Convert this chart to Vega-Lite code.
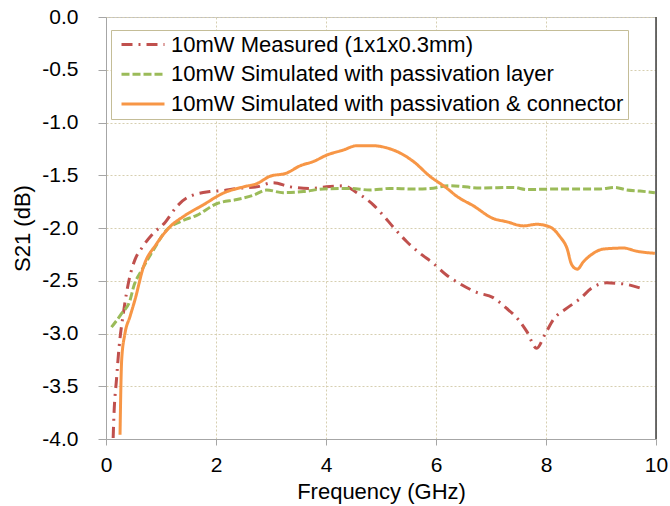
{
  "$schema": "https://vega.github.io/schema/vega-lite/v6.json",
  "width": 550,
  "height": 422,
  "autosize": {"type": "none"},
  "padding": {"left": 106, "top": 17, "right": 14, "bottom": 67},
  "background": "white",
  "config": {
    "font": "Liberation Sans",
    "view": {"stroke": "#BFBFBF", "strokeWidth": 1}
  },
  "datasets": {
    "s21": [
      {"s": "10mW Measured (1x1x0.3mm)", "f": 0.13, "db": -3.99},
      {"s": "10mW Measured (1x1x0.3mm)", "f": 0.145, "db": -3.77},
      {"s": "10mW Measured (1x1x0.3mm)", "f": 0.19, "db": -3.44},
      {"s": "10mW Measured (1x1x0.3mm)", "f": 0.236, "db": -3.14},
      {"s": "10mW Measured (1x1x0.3mm)", "f": 0.315, "db": -2.81},
      {"s": "10mW Measured (1x1x0.3mm)", "f": 0.42, "db": -2.49},
      {"s": "10mW Measured (1x1x0.3mm)", "f": 0.527, "db": -2.3},
      {"s": "10mW Measured (1x1x0.3mm)", "f": 0.65, "db": -2.19},
      {"s": "10mW Measured (1x1x0.3mm)", "f": 0.86, "db": -2.05},
      {"s": "10mW Measured (1x1x0.3mm)", "f": 1.07, "db": -1.95},
      {"s": "10mW Measured (1x1x0.3mm)", "f": 1.28, "db": -1.8},
      {"s": "10mW Measured (1x1x0.3mm)", "f": 1.485, "db": -1.71},
      {"s": "10mW Measured (1x1x0.3mm)", "f": 1.89, "db": -1.655},
      {"s": "10mW Measured (1x1x0.3mm)", "f": 2.13, "db": -1.645},
      {"s": "10mW Measured (1x1x0.3mm)", "f": 2.38, "db": -1.625},
      {"s": "10mW Measured (1x1x0.3mm)", "f": 2.74, "db": -1.61},
      {"s": "10mW Measured (1x1x0.3mm)", "f": 3.04, "db": -1.57},
      {"s": "10mW Measured (1x1x0.3mm)", "f": 3.35, "db": -1.61},
      {"s": "10mW Measured (1x1x0.3mm)", "f": 3.71, "db": -1.625},
      {"s": "10mW Measured (1x1x0.3mm)", "f": 4.01, "db": -1.61},
      {"s": "10mW Measured (1x1x0.3mm)", "f": 4.32, "db": -1.6},
      {"s": "10mW Measured (1x1x0.3mm)", "f": 4.56, "db": -1.665},
      {"s": "10mW Measured (1x1x0.3mm)", "f": 4.86, "db": -1.78},
      {"s": "10mW Measured (1x1x0.3mm)", "f": 5.04, "db": -1.88},
      {"s": "10mW Measured (1x1x0.3mm)", "f": 5.22, "db": -1.99},
      {"s": "10mW Measured (1x1x0.3mm)", "f": 5.47, "db": -2.13},
      {"s": "10mW Measured (1x1x0.3mm)", "f": 5.71, "db": -2.24},
      {"s": "10mW Measured (1x1x0.3mm)", "f": 5.95, "db": -2.335},
      {"s": "10mW Measured (1x1x0.3mm)", "f": 6.19, "db": -2.445},
      {"s": "10mW Measured (1x1x0.3mm)", "f": 6.44, "db": -2.53},
      {"s": "10mW Measured (1x1x0.3mm)", "f": 6.74, "db": -2.61},
      {"s": "10mW Measured (1x1x0.3mm)", "f": 7.04, "db": -2.66},
      {"s": "10mW Measured (1x1x0.3mm)", "f": 7.28, "db": -2.76},
      {"s": "10mW Measured (1x1x0.3mm)", "f": 7.5, "db": -2.87},
      {"s": "10mW Measured (1x1x0.3mm)", "f": 7.65, "db": -2.98},
      {"s": "10mW Measured (1x1x0.3mm)", "f": 7.83, "db": -3.14},
      {"s": "10mW Measured (1x1x0.3mm)", "f": 7.98, "db": -3.01},
      {"s": "10mW Measured (1x1x0.3mm)", "f": 8.13, "db": -2.87},
      {"s": "10mW Measured (1x1x0.3mm)", "f": 8.38, "db": -2.76},
      {"s": "10mW Measured (1x1x0.3mm)", "f": 8.62, "db": -2.67},
      {"s": "10mW Measured (1x1x0.3mm)", "f": 8.83, "db": -2.57},
      {"s": "10mW Measured (1x1x0.3mm)", "f": 9.1, "db": -2.52},
      {"s": "10mW Measured (1x1x0.3mm)", "f": 9.41, "db": -2.53},
      {"s": "10mW Measured (1x1x0.3mm)", "f": 9.72, "db": -2.57},

      {"s": "10mW Simulated with passivation layer", "f": 0.1, "db": -2.94},
      {"s": "10mW Simulated with passivation layer", "f": 0.285, "db": -2.81},
      {"s": "10mW Simulated with passivation layer", "f": 0.44, "db": -2.68},
      {"s": "10mW Simulated with passivation layer", "f": 0.5, "db": -2.56},
      {"s": "10mW Simulated with passivation layer", "f": 0.65, "db": -2.4},
      {"s": "10mW Simulated with passivation layer", "f": 0.86, "db": -2.21},
      {"s": "10mW Simulated with passivation layer", "f": 1.1, "db": -2.02},
      {"s": "10mW Simulated with passivation layer", "f": 1.35, "db": -1.94},
      {"s": "10mW Simulated with passivation layer", "f": 1.65, "db": -1.88},
      {"s": "10mW Simulated with passivation layer", "f": 2.01, "db": -1.77},
      {"s": "10mW Simulated with passivation layer", "f": 2.38, "db": -1.73},
      {"s": "10mW Simulated with passivation layer", "f": 2.68, "db": -1.69},
      {"s": "10mW Simulated with passivation layer", "f": 2.92, "db": -1.64},
      {"s": "10mW Simulated with passivation layer", "f": 3.22, "db": -1.665},
      {"s": "10mW Simulated with passivation layer", "f": 3.59, "db": -1.655},
      {"s": "10mW Simulated with passivation layer", "f": 3.95, "db": -1.63},
      {"s": "10mW Simulated with passivation layer", "f": 4.44, "db": -1.625},
      {"s": "10mW Simulated with passivation layer", "f": 4.8, "db": -1.64},
      {"s": "10mW Simulated with passivation layer", "f": 5.16, "db": -1.625},
      {"s": "10mW Simulated with passivation layer", "f": 5.59, "db": -1.63},
      {"s": "10mW Simulated with passivation layer", "f": 5.89, "db": -1.625},
      {"s": "10mW Simulated with passivation layer", "f": 6.25, "db": -1.6},
      {"s": "10mW Simulated with passivation layer", "f": 6.8, "db": -1.62},
      {"s": "10mW Simulated with passivation layer", "f": 7.41, "db": -1.615},
      {"s": "10mW Simulated with passivation layer", "f": 7.65, "db": -1.635},
      {"s": "10mW Simulated with passivation layer", "f": 8.31, "db": -1.63},
      {"s": "10mW Simulated with passivation layer", "f": 8.98, "db": -1.63},
      {"s": "10mW Simulated with passivation layer", "f": 9.25, "db": -1.615},
      {"s": "10mW Simulated with passivation layer", "f": 9.47, "db": -1.64},
      {"s": "10mW Simulated with passivation layer", "f": 9.71, "db": -1.65},
      {"s": "10mW Simulated with passivation layer", "f": 9.98, "db": -1.665},

      {"s": "10mW Simulated with passivation & connector", "f": 0.255, "db": -3.96},
      {"s": "10mW Simulated with passivation & connector", "f": 0.285, "db": -3.25},
      {"s": "10mW Simulated with passivation & connector", "f": 0.345, "db": -3.0},
      {"s": "10mW Simulated with passivation & connector", "f": 0.436, "db": -2.84},
      {"s": "10mW Simulated with passivation & connector", "f": 0.527, "db": -2.68},
      {"s": "10mW Simulated with passivation & connector", "f": 0.68, "db": -2.37},
      {"s": "10mW Simulated with passivation & connector", "f": 0.92, "db": -2.15},
      {"s": "10mW Simulated with passivation & connector", "f": 1.16, "db": -1.99},
      {"s": "10mW Simulated with passivation & connector", "f": 1.41, "db": -1.89},
      {"s": "10mW Simulated with passivation & connector", "f": 1.77, "db": -1.78},
      {"s": "10mW Simulated with passivation & connector", "f": 2.13, "db": -1.67},
      {"s": "10mW Simulated with passivation & connector", "f": 2.5, "db": -1.61},
      {"s": "10mW Simulated with passivation & connector", "f": 2.74, "db": -1.58},
      {"s": "10mW Simulated with passivation & connector", "f": 2.98, "db": -1.51},
      {"s": "10mW Simulated with passivation & connector", "f": 3.28, "db": -1.48},
      {"s": "10mW Simulated with passivation & connector", "f": 3.53, "db": -1.41},
      {"s": "10mW Simulated with passivation & connector", "f": 3.77, "db": -1.37},
      {"s": "10mW Simulated with passivation & connector", "f": 4.01, "db": -1.31},
      {"s": "10mW Simulated with passivation & connector", "f": 4.32, "db": -1.26},
      {"s": "10mW Simulated with passivation & connector", "f": 4.56, "db": -1.22},
      {"s": "10mW Simulated with passivation & connector", "f": 4.86, "db": -1.22},
      {"s": "10mW Simulated with passivation & connector", "f": 5.1, "db": -1.24},
      {"s": "10mW Simulated with passivation & connector", "f": 5.35, "db": -1.29},
      {"s": "10mW Simulated with passivation & connector", "f": 5.59, "db": -1.37},
      {"s": "10mW Simulated with passivation & connector", "f": 5.89, "db": -1.51},
      {"s": "10mW Simulated with passivation & connector", "f": 6.19, "db": -1.62},
      {"s": "10mW Simulated with passivation & connector", "f": 6.38, "db": -1.7},
      {"s": "10mW Simulated with passivation & connector", "f": 6.68, "db": -1.79},
      {"s": "10mW Simulated with passivation & connector", "f": 7.04, "db": -1.91},
      {"s": "10mW Simulated with passivation & connector", "f": 7.28, "db": -1.94},
      {"s": "10mW Simulated with passivation & connector", "f": 7.59, "db": -1.98},
      {"s": "10mW Simulated with passivation & connector", "f": 7.83, "db": -1.965},
      {"s": "10mW Simulated with passivation & connector", "f": 8.07, "db": -1.99},
      {"s": "10mW Simulated with passivation & connector", "f": 8.25, "db": -2.08},
      {"s": "10mW Simulated with passivation & connector", "f": 8.38, "db": -2.19},
      {"s": "10mW Simulated with passivation & connector", "f": 8.47, "db": -2.35},
      {"s": "10mW Simulated with passivation & connector", "f": 8.57, "db": -2.39},
      {"s": "10mW Simulated with passivation & connector", "f": 8.68, "db": -2.32},
      {"s": "10mW Simulated with passivation & connector", "f": 8.86, "db": -2.24},
      {"s": "10mW Simulated with passivation & connector", "f": 9.04, "db": -2.2},
      {"s": "10mW Simulated with passivation & connector", "f": 9.41, "db": -2.19},
      {"s": "10mW Simulated with passivation & connector", "f": 9.65, "db": -2.22},
      {"s": "10mW Simulated with passivation & connector", "f": 9.98, "db": -2.24}
    ],
    "frame": [{"f": 10}]
  },
  "layer": [
    {
      "data": {"name": "s21"},
      "mark": {"type": "line", "strokeWidth": 3, "interpolate": "monotone"},
      "encoding": {
        "x": {
          "field": "f",
          "type": "quantitative",
          "scale": {"domain": [0, 10], "nice": false, "zero": false},
          "axis": {
            "title": "Frequency (GHz)",
            "values": [0, 2, 4, 6, 8, 10],
            "format": "d",
            "grid": true,
            "gridColor": "#D6CFB0",
            "gridDash": [2, 2],
            "gridWidth": 1,
            "domainColor": "#A6A6A6",
            "tickColor": "#A6A6A6",
            "tickSize": 6,
            "labelFlush": false,
            "labelOverlap": false,
            "labelFontSize": 21,
            "labelColor": "black",
            "labelPadding": 9,
            "titleFontSize": 22,
            "titleFontWeight": "normal",
            "titleColor": "black",
            "titlePadding": 6
          }
        },
        "y": {
          "field": "db",
          "type": "quantitative",
          "scale": {"domain": [-4, 0], "nice": false, "zero": false},
          "axis": {
            "title": "S21 (dB)",
            "values": [-4, -3.5, -3, -2.5, -2, -1.5, -1, -0.5, 0],
            "labelExpr": "datum.value == 0 ? '0.0' : '-' + format(abs(datum.value), '.1f')",
            "grid": true,
            "gridColor": "#D6CFB0",
            "gridDash": [2, 2],
            "gridWidth": 1,
            "domainColor": "#A6A6A6",
            "tickColor": "#A6A6A6",
            "tickSize": 8,
            "labelOverlap": false,
            "labelFontSize": 21,
            "labelColor": "black",
            "labelPadding": 20,
            "titleFontSize": 22,
            "titleFontWeight": "normal",
            "titleColor": "black",
            "titlePadding": 7
          }
        },
        "color": {
          "field": "s",
          "type": "nominal",
          "scale": {
            "domain": ["10mW Measured (1x1x0.3mm)", "10mW Simulated with passivation layer", "10mW Simulated with passivation & connector"],
            "range": ["#C0504D", "#9BBB59", "#F79646"]
          },
          "legend": {
            "title": null,
            "orient": "none",
            "legendX": 5,
            "legendY": 13,
            "padding": 4,
            "strokeColor": "#C4BD97",
            "fillColor": "white",
            "symbolType": "stroke",
            "symbolSize": 1849,
            "symbolStrokeWidth": 3,
            "symbolOffset": 5,
            "clipHeight": 21,
            "labelFontSize": 22,
            "labelColor": "black",
            "labelOffset": 5,
            "labelLimit": 600,
            "rowPadding": 6.7
          }
        },
        "strokeDash": {
          "field": "s",
          "type": "nominal",
          "scale": {
            "domain": ["10mW Measured (1x1x0.3mm)", "10mW Simulated with passivation layer", "10mW Simulated with passivation & connector"],
            "range": [[11, 6, 2, 6], [8, 3], [1, 0]]
          },
          "legend": {
            "title": null,
            "orient": "none",
            "legendX": 5,
            "legendY": 13,
            "padding": 4,
            "strokeColor": "#C4BD97",
            "fillColor": "white",
            "symbolType": "stroke",
            "symbolSize": 1849,
            "symbolStrokeWidth": 3,
            "symbolOffset": 5,
            "clipHeight": 21,
            "labelFontSize": 22,
            "labelColor": "black",
            "labelOffset": 5,
            "labelLimit": 600,
            "rowPadding": 6.7
          }
        }
      }
    },
    {
      "data": {"name": "frame"},
      "mark": {"type": "rule", "color": "#404040", "strokeWidth": 1.5},
      "encoding": {
        "x": {"field": "f", "type": "quantitative"}
      }
    }
  ]
}
